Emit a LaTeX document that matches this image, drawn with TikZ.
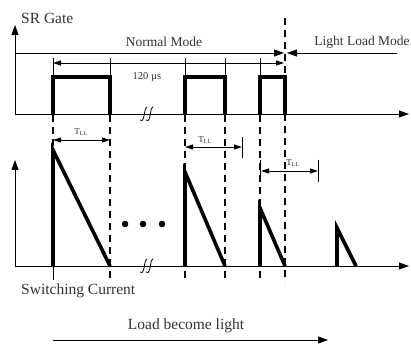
\documentclass[tikz,border=0pt]{standalone}
\usepackage{fontspec}
\setmainfont{Liberation Serif}
\usetikzlibrary{arrows.meta}
\begin{document}
\begin{tikzpicture}[x=1pt,y=-1pt,
  thin line/.style={line width=0.9pt},
  thick wave/.style={line width=3.6pt, line join=miter},
  dash line/.style={line width=1.1pt, dash pattern=on 7pt off 5pt},
  tip/.style={-{Triangle[length=10pt,width=7pt]}},
  dimarrow/.style={line width=0.9pt,{Triangle[length=8pt,width=5pt]}-{Triangle[length=8pt,width=5pt]}},
  lbl/.style={text=black!80, inner sep=0pt},
  big/.style={lbl, font=\fontsize{15.5}{16}\selectfont},
  mid/.style={lbl, font=\fontsize{13.5}{14}\selectfont},
  small/.style={lbl, font=\fontsize{10.5}{11}\selectfont},
  tll/.style={lbl, font=\fontsize{9}{9}\selectfont}]
\useasboundingbox (0,0) rectangle (411,344);
\fill[white] (0,0) rectangle (411,344);

% axes top
\coordinate (o1) at (15,114);
\coordinate (y1) at (15,25);
\coordinate (x1) at (409,114);
\draw[thin line, tip] (o1) -- (y1);
\draw[thin line, tip] (o1) -- (x1);
% axes bottom
\coordinate (o2) at (15,266);
\coordinate (y2) at (15,160);
\coordinate (x2) at (409,266);
\draw[thin line, tip] (o2) -- (y2);
\draw[thin line, tip] (o2) -- (x2);

% labels
\node[big, anchor=west] (sr) at (21,18) {SR Gate};
\node[mid] (nm) at (164,42) {Normal Mode};
\node[mid] (llm) at (362,42) {Light Load Mode};
\node[small] (us) at (147,77) {120 µs};
\node[big, anchor=west] (sc) at (21,291) {Switching Current};
\node[big] (lb) at (186,326) {Load become light};

% mode arrows
\coordinate (nmL) at (15,53);
\coordinate (nmR) at (284,53);
\coordinate (llR) at (397,53);
\coordinate (llL) at (287,53);
\draw[thin line, tip] (nmL) -- (nmR);
\draw[thin line, tip] (llR) -- (llL);

% dashed verticals
\draw[dash line] (285,18) -- (285,282);
\foreach \x in {110,185,225,260}{
  \draw[dash line] (\x,115) -- (\x,282);
}
\draw[dash line] (53,115) -- (53,150);
\draw[thin line] (53,266) -- (53,280);

% ticks above pulses
\foreach \x in {53,110,185,225,260}{
  \draw[thin line] (\x,58) -- (\x,77);
}
% 120 us arrow
\coordinate (p1) at (53,63);
\coordinate (p2) at (284,63);
\draw[dimarrow] (p1) -- (p2);

% pulses
\draw[thick wave] (53,114) -- (53,77) -- (110,77) -- (110,114);
\draw[thick wave] (185,114) -- (185,77) -- (225,77) -- (225,114);
\draw[thick wave] (260,114) -- (260,77) -- (285,77) -- (285,114);

% triangles
\draw[thick wave, line join=miter] (53,266) -- (53,150) -- (110,266);
\draw[thick wave] (185,266) -- (185,172) -- (225,266);
\draw[thick wave] (260,266) -- (260,208) -- (285,266);
\draw[thick wave] (337,266) -- (337,228) -- (356,266);

% TLL dimensions
\coordinate (t1a) at (53,140);
\coordinate (t1b) at (110,140);
\draw[dimarrow] (t1a) -- (t1b);
\node[tll] (tl1) at (81,132) {T\textsubscript{LL}};

\coordinate (t2a) at (185,147);
\coordinate (t2b) at (242,147);
\draw[dimarrow] (t2a) -- (t2b);
\draw[thin line] (242,137) -- (242,158);
\node[tll] (tl2) at (205,140) {T\textsubscript{LL}};

\coordinate (t3a) at (261,171);
\coordinate (t3b) at (318,171);
\draw[dimarrow] (t3a) -- (t3b);
\draw[thin line] (318,160) -- (318,182);
\draw[thin line] (260,160) -- (260,182);
\node[tll] (tl3) at (293,163) {T\textsubscript{LL}};

% dots
\foreach \x in {125,143,162}{
  \fill (\x,224) circle (3.3pt);
}

% break symbols
\foreach \yy in {114,266}{
  \foreach \x in {144,150}{
    \draw[line width=0.8pt] (\x-4,\yy+6) .. controls (\x-3,\yy+8) and (\x-1,\yy+7) .. (\x,\yy+2)
      .. controls (\x+1,\yy-3) and (\x+1,\yy-6) .. (\x+3,\yy-7);
  }
}

% load arrow
\coordinate (la) at (53,340);
\coordinate (lb2) at (328,340);
\draw[thin line, tip] (la) -- (lb2);
\end{tikzpicture}
\end{document}
